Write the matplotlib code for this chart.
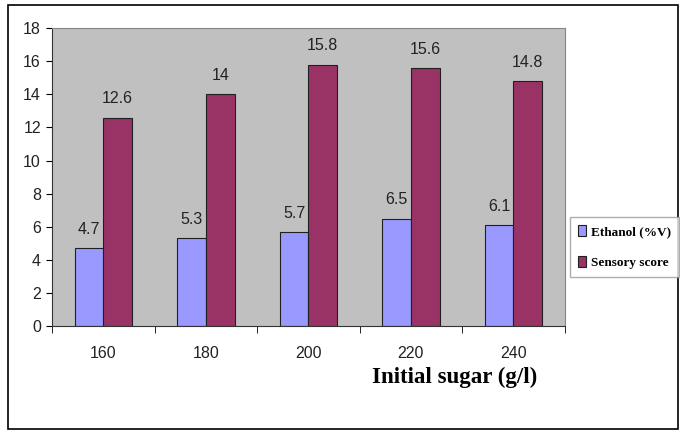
import numpy as np
import matplotlib
matplotlib.use("Agg")
import matplotlib.pyplot as plt
from matplotlib.patches import Rectangle

# data
sugar = ["160", "180", "200", "220", "240"]
ethanol = [4.7, 5.3, 5.7, 6.5, 6.1]
sensory = [12.6, 14, 15.8, 15.6, 14.8]

num_font = ["Liberation Sans Narrow", "Liberation Sans", "DejaVu Sans"]
ser_font = ["Liberation Serif", "DejaVu Serif"]

fig = plt.figure(figsize=(6.8, 4.32), dpi=100)
fig.patch.set_facecolor("white")
# outer chart frame
fig.patches.append(Rectangle((0.012, 0.006), 0.985, 0.982, transform=fig.transFigure,
                             fill=False, edgecolor="black", linewidth=1.2))

ax = fig.add_axes([0.0765, 0.245, 0.754, 0.69])
ax.set_facecolor("#C0C0C0")

x = np.arange(len(sugar))
w = 0.28
b1 = ax.bar(x - w / 2, ethanol, w, color="#9999FF", edgecolor="#202020", linewidth=0.8,
            label="Ethanol (%V)")
b2 = ax.bar(x + w / 2, sensory, w, color="#993366", edgecolor="#202020", linewidth=0.8,
            label="Sensory score")

for bars, vals in ((b1, ethanol), (b2, sensory)):
    for r, v in zip(bars, vals):
        ax.annotate("%g" % v, (r.get_x() + r.get_width() / 2, v), xytext=(0, 8),
                    textcoords="offset points", ha="center", va="bottom",
                    fontsize=11.5, family=num_font, color="#222222")

ax.set_xlim(-0.5, len(sugar) - 0.5)
ax.set_ylim(0, 18)
ax.set_yticks(range(0, 19, 2))
ax.set_xticks(x)
ax.set_xticklabels(sugar)
ax.set_xticks(np.arange(-0.5, len(sugar)), minor=True)
ax.tick_params(axis="x", which="major", length=0, pad=14)
ax.tick_params(axis="x", which="minor", length=5, direction="out")
ax.tick_params(axis="y", length=4, direction="out", pad=4)
for lab in ax.get_xticklabels() + ax.get_yticklabels():
    lab.set_family(num_font)
    lab.set_fontsize(11.5)
    lab.set_color("#222222")

ax.spines["left"].set_color("#333333")
ax.spines["bottom"].set_color("#333333")
ax.spines["top"].set_color("#888888")
ax.spines["right"].set_color("#888888")

fig.text(0.79, 0.127, "Initial sugar (g/l)", ha="right", va="center",
         fontsize=16.5, fontweight="bold", family=ser_font)

leg = fig.legend(loc="upper left", bbox_to_anchor=(0.838, 0.498), frameon=True,
                 fancybox=False, edgecolor="#999999", handlelength=0.6, handleheight=0.9,
                 handletextpad=0.4, labelspacing=1.4, borderpad=0.6, borderaxespad=0,
                 prop={"family": ser_font, "size": 9.5, "weight": "bold"})

fig.savefig("out.png", dpi=100)
